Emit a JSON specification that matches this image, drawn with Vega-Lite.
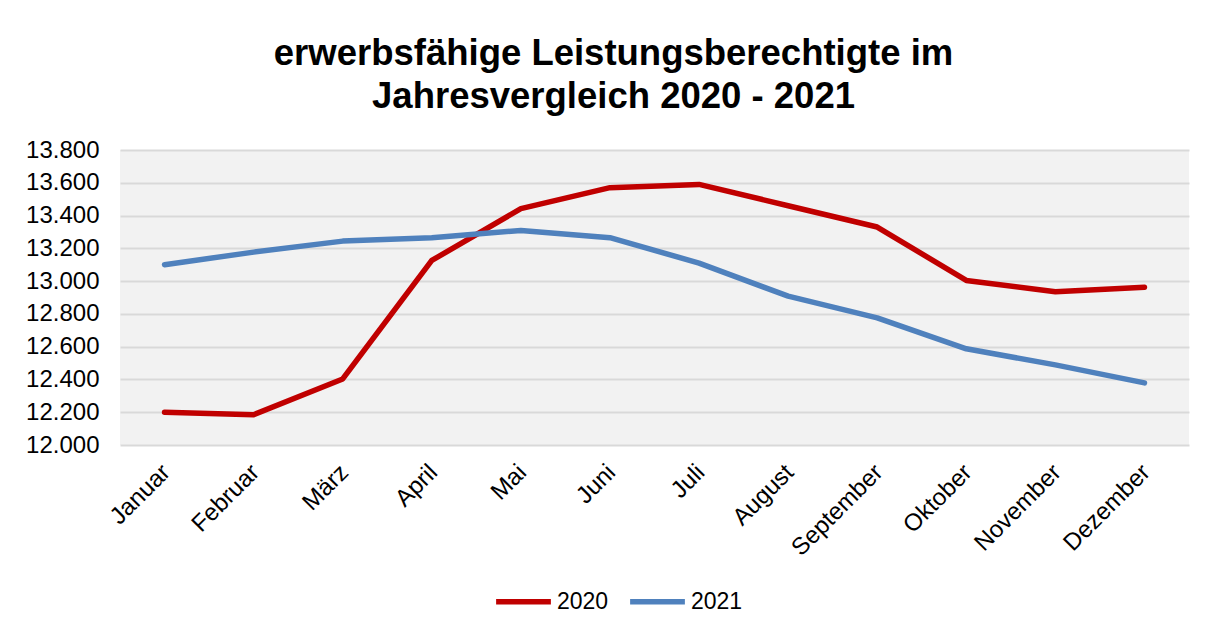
{
  "$schema": "https://vega.github.io/schema/vega-lite/v6.json",
  "width": 1069,
  "height": 295,
  "autosize": {"type": "none"},
  "padding": {"left": 120, "top": 150, "right": 25, "bottom": 184},
  "background": "white",
  "title": {
    "text": ["erwerbsfähige Leistungsberechtigte im", "Jahresvergleich 2020 - 2021"],
    "font": "Liberation Sans",
    "fontSize": 36.5,
    "fontWeight": "bold",
    "color": "#000000",
    "anchor": "middle",
    "dx": -41,
    "offset": 23,
    "lineHeight": 43
  },
  "config": {
    "view": {"fill": "#f2f2f2", "stroke": null},
    "font": "Liberation Sans"
  },
  "data": {
    "values": [
      {"Monat": "Januar", "Jahr": "2020", "Wert": 12200},
      {"Monat": "Februar", "Jahr": "2020", "Wert": 12185},
      {"Monat": "März", "Jahr": "2020", "Wert": 12403},
      {"Monat": "April", "Jahr": "2020", "Wert": 13126},
      {"Monat": "Mai", "Jahr": "2020", "Wert": 13442},
      {"Monat": "Juni", "Jahr": "2020", "Wert": 13570},
      {"Monat": "Juli", "Jahr": "2020", "Wert": 13590},
      {"Monat": "August", "Jahr": "2020", "Wert": 13460},
      {"Monat": "September", "Jahr": "2020", "Wert": 13330},
      {"Monat": "Oktober", "Jahr": "2020", "Wert": 13004},
      {"Monat": "November", "Jahr": "2020", "Wert": 12935},
      {"Monat": "Dezember", "Jahr": "2020", "Wert": 12963},
      {"Monat": "Januar", "Jahr": "2021", "Wert": 13100},
      {"Monat": "Februar", "Jahr": "2021", "Wert": 13177},
      {"Monat": "März", "Jahr": "2021", "Wert": 13244},
      {"Monat": "April", "Jahr": "2021", "Wert": 13265},
      {"Monat": "Mai", "Jahr": "2021", "Wert": 13309},
      {"Monat": "Juni", "Jahr": "2021", "Wert": 13265},
      {"Monat": "Juli", "Jahr": "2021", "Wert": 13110},
      {"Monat": "August", "Jahr": "2021", "Wert": 12908},
      {"Monat": "September", "Jahr": "2021", "Wert": 12776},
      {"Monat": "Oktober", "Jahr": "2021", "Wert": 12587},
      {"Monat": "November", "Jahr": "2021", "Wert": 12489},
      {"Monat": "Dezember", "Jahr": "2021", "Wert": 12379}
    ]
  },
  "mark": {"type": "line", "strokeWidth": 5.5, "strokeCap": "round", "strokeJoin": "round"},
  "encoding": {
    "x": {
      "field": "Monat",
      "type": "ordinal",
      "sort": ["Januar", "Februar", "März", "April", "Mai", "Juni", "Juli", "August", "September", "Oktober", "November", "Dezember"],
      "scale": {"paddingInner": 0, "paddingOuter": 0.5},
      "axis": {
        "title": null,
        "labelAngle": -45,
        "labelFontSize": 24,
        "labelColor": "#000000",
        "labelPadding": 15,
        "labelOffset": -7,
        "ticks": false,
        "domain": false,
        "grid": false
      }
    },
    "y": {
      "field": "Wert",
      "type": "quantitative",
      "scale": {"domain": [12000, 13800], "nice": false, "zero": false},
      "axis": {
        "title": null,
        "values": [12000, 12200, 12400, 12600, 12800, 13000, 13200, 13400, 13600, 13800],
        "labelExpr": "replace(format(datum.value, ',d'), ',', '.')",
        "labelFontSize": 24,
        "labelColor": "#000000",
        "labelPadding": 21,
        "ticks": false,
        "domain": false,
        "grid": true,
        "gridColor": "#d9d9d9",
        "gridWidth": 2
      }
    },
    "color": {
      "field": "Jahr",
      "type": "nominal",
      "scale": {"domain": ["2020", "2021"], "range": ["#c00000", "#4f81bd"]},
      "legend": {
        "title": null,
        "orient": "none",
        "legendX": 373,
        "legendY": 421,
        "direction": "horizontal",
        "symbolType": "stroke",
        "symbolStrokeWidth": 5.5,
        "symbolSize": 3000,
        "labelFontSize": 23,
        "labelColor": "#000000",
        "labelOffset": 3,
        "columnPadding": 10,
        "symbolOffset": 0
      }
    }
  }
}
